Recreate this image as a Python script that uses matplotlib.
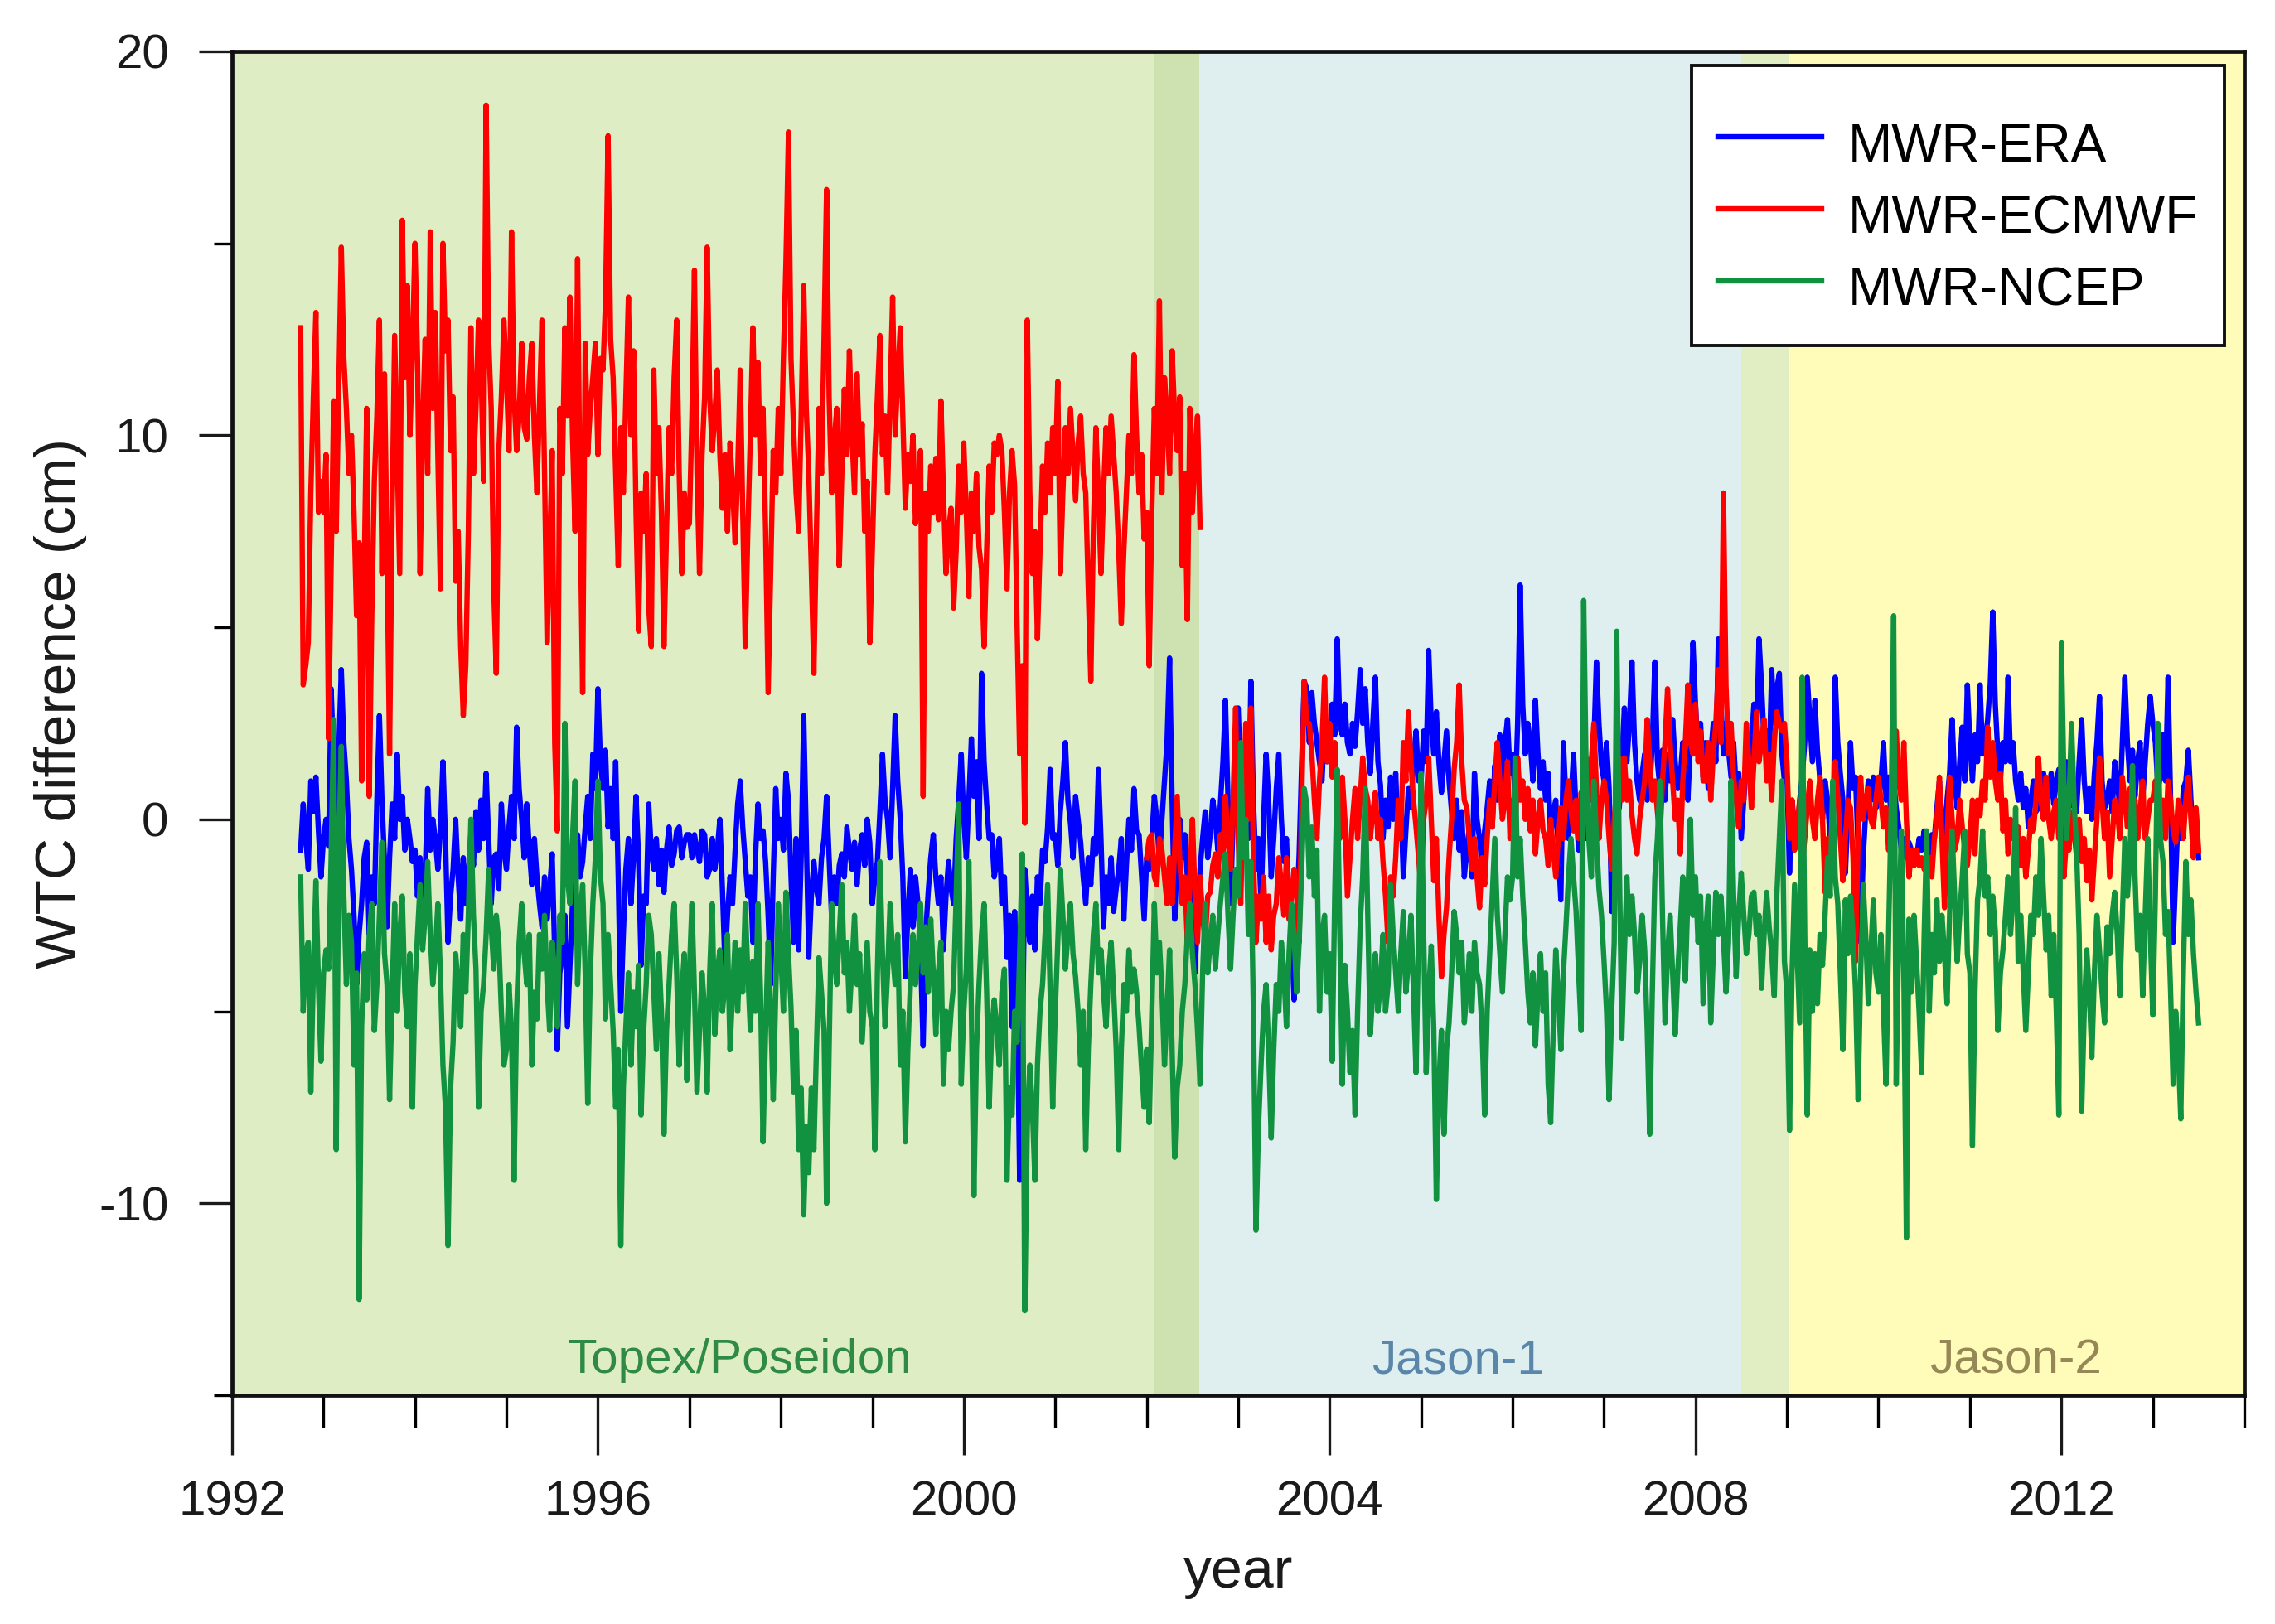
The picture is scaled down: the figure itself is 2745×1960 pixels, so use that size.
import numpy as np
import matplotlib
matplotlib.use("Agg")
import matplotlib.pyplot as plt
from matplotlib.ticker import MultipleLocator

plt.rcParams['font.family'] = ['Liberation Sans', 'DejaVu Sans']
plt.rcParams['axes.unicode_minus'] = False

# ------------------------------------------------------------------ data
cycle_step = 1.0 / 36.0          # ~10-day altimeter cycles (years)
era_start = 1992.75
ncep_start = 1992.75
ecmwf_tp_start = 1992.75
ecmwf_j_start = 2002.0

series_names = ["MWR-ERA", "MWR-ECMWF", "MWR-NCEP"]

mission_names = ["Topex/Poseidon", "Jason-1", "Jason-2"]
mission_spans = [(1992.0, 2002.08), (2002.57, 2008.5), (2009.03, 2014.0)]
overlap_spans = [(2002.08, 2002.57), (2008.5, 2009.03)]

# MWR-ERA (cm), one line per calendar year
era = [
    -0.8, 0.4, -0.5, -1.3, 1.0, 0.2, 1.1, -0.3, -1.5,
    -0.5, 0.0, -0.7, 3.4, 1.5, 0.0, 1.8, 3.9, 2.0, 1.0, -0.5, -1.3, -2.5, -4.3, -3.0, -2.2, -1.0, -0.6, -3.0, -1.5, -2.2, 0.5, 2.7, 0.5, -1.1, -2.8, -1.0, 0.4, -0.5, 1.7, 0.0, 0.6, -0.8, 0.0, -0.5, -1.1,
    -0.8, -2.0, -1.0, -3.2, -1.5, 0.8, -0.8, 0.0, -0.5, -1.3, -0.3, 1.5, -0.5, -3.2, -2.0, -1.3, 0.0, -1.5, -2.6, -1.0, -2.2, -1.5, -0.4, -1.2, 0.2, -0.8, 0.5, -0.5, 1.2, -0.5, -2.2, -1.0, -0.9, -1.8, 0.4, -0.8,
    -1.3, -0.2, 0.6, -0.5, 2.4, 0.8, 0.0, -1.0, 0.4, -0.8, -1.7, -0.5, -1.5, -2.2, -2.8, -1.5, -2.6, -1.8, -0.9, -3.5, -6.0, -4.0, -3.5, -2.5, -5.4, -3.8, -2.2, -1.0, -0.4, -1.5, -1.1, -0.2, 0.6, -0.5, 1.7, 0.8,
    3.4, 1.5, 0.8, 1.8, -0.2, 0.8, -0.5, 1.5, -1.5, -5.0, -3.0, -1.3, -0.5, -2.2, -1.0, 0.6, -1.0, -3.8, -2.0, -2.2, 0.4, -0.8, -1.3, -0.5, -1.7, -0.8, -1.9, -0.8, -0.2, -1.2, -0.9, -0.3, -0.2, -1.0, -0.6, -0.4,
    -0.4, -1.0, -0.4, -0.8, -1.1, -0.3, -0.4, -1.5, -1.3, -0.5, -1.3, -0.8, 0.0, -1.8, -3.8, -2.5, -1.5, -2.2, -0.8, 0.4, 1.0, -0.2, -1.1, -2.0, -1.5, -3.2, -1.0, 0.4, -0.5, -0.3, -1.1, -2.5, -4.3, -1.5, 0.8, -0.5,
    0.0, -0.8, 1.2, 0.5, -1.5, -3.2, -0.5, -3.4, -1.0, 2.7, -0.5, -3.6, -2.0, -1.1, -1.8, -2.2, -1.0, -0.5, 0.6, -1.0, -2.6, -1.5, -2.2, -1.2, -0.9, -1.5, -0.2, -0.8, -1.3, -0.6, -1.7, -0.8, -0.4, -1.2, 0.0, -0.6,
    -2.2, -1.5, -1.1, 0.2, 1.7, 0.5, 0.0, -1.0, 0.8, 2.7, 1.0, 0.0, -1.5, -4.1, -2.5, -1.3, -2.8, -1.5, -2.2, -3.5, -5.9, -3.0, -1.9, -1.0, -0.4, -1.5, -2.2, -1.5, -3.4, -2.0, -1.1, -1.8, -2.2, -0.5, 0.5, 1.7,
    0.0, -1.0, 0.5, 2.1, 0.6, 1.5, -0.5, 3.8, 1.5, 0.4, -0.5, -0.4, -1.5, -1.1, -0.5, -2.2, -1.5, -3.6, -2.5, -5.4, -2.4, -4.5, -9.4, -6.4, -1.3, -2.5, -3.2, -2.0, -3.4, -1.5, -2.2, -0.8, -1.1, -0.2, 1.3, -0.5,
    -0.4, -1.2, 0.2, 1.0, 2.0, 0.5, -0.1, -1.0, 0.6, 0.0, -0.6, -1.5, -2.2, -1.0, -1.7, -0.5, -0.9, 1.3, -0.5, -2.8, -1.5, -2.2, -1.0, -2.4, -1.8, -1.3, -0.5, -2.6, -1.2, 0.0, -0.8, 0.8, -0.3, -0.4, -1.5, -2.6,
    -1.0, -1.3, -0.5, 0.6, 0.0, -1.1, 0.0, 1.0, 2.0, 4.2, 0.5, -2.6, -1.0, 0.0, -1.0, -0.4, -1.5, -1.1, -2.0, -4.0, -2.5, -1.3, -0.5, 0.2, -1.0, -0.4, 0.5, 0.0, -0.8, 0.4, 1.5, 3.1, 0.5, -2.2, 0.0, 1.5,
    2.9, 1.0, 0.0, 1.5, -0.5, 3.6, 0.5, -1.3, -0.5, -2.2, 0.0, 1.7, 0.5, -1.5, -0.5, 0.8, 1.7, 0.0, -1.1, -0.5, -2.2, -3.0, -4.7, -2.5, -0.9, 1.5, 3.6, 3.4, 2.0, 3.3, 2.5, 2.0, 1.5, 1.0, 2.5, 1.5,
    2.0, 3.0, 2.2, 4.7, 2.5, 2.2, 3.0, 2.0, 1.7, 2.5, 1.9, 2.8, 3.9, 2.5, 3.4, 2.0, 1.2, 2.5, 3.7, 1.5, 0.9, -0.5, 0.5, -0.2, 1.1, 0.0, 1.2, -0.5, 0.5, -1.5, -0.3, 0.8, 0.3, 1.5, 2.3, 1.0,
    1.0, 2.3, 1.5, 4.4, 2.5, 1.7, 2.8, 1.5, 0.7, 1.5, 2.3, 1.0, 0.2, -0.5, 0.5, -0.8, 0.2, -1.5, -0.8, -0.2, -1.5, 1.2, 0.0, -0.5, -1.3, -0.3, 0.3, 1.0, -0.2, 1.4, 0.5, 2.2, 1.0, 2.0, 2.6, 1.2,
    1.7, 0.5, 2.5, 6.1, 3.0, 1.7, 2.5, 2.0, 1.0, 3.1, 1.7, 0.8, 1.5, 0.5, 1.2, -0.5, 0.2, 0.5, -0.8, -2.1, 2.0, 0.5, -0.5, 0.5, 1.7, 0.2, -0.8, 0.5, 0.3, -0.5, 1.1, 0.5, 2.0, 4.1, 2.5, 1.4,
    1.0, 2.0, 0.8, -2.4, -0.5, 1.0, 0.3, 1.5, 2.9, 1.5, 2.5, 4.1, 2.0, 1.0, 0.5, 1.2, 1.7, 0.5, 0.8, 2.0, 4.1, 1.5, 0.8, 1.8, 0.5, 1.7, 1.0, 2.6, 1.5, 0.8, 1.1, 2.0, 1.1, 0.5, 2.0, 4.6,
    3.0, 1.7, 2.5, 1.1, 2.0, 0.8, 1.7, 2.5, 1.5, 4.7, 3.0, 1.7, 2.5, 1.8, 1.1, 2.0, 0.8, 1.2, -0.5, 0.5, 1.5, 1.1, 2.0, 3.0, 2.0, 4.7, 3.5, 2.0, 2.3, 1.5, 3.9, 2.5, 3.4, 3.8, 1.7, 1.0,
    1.1, -1.4, 0.5, -0.2, -0.5, 0.5, 1.1, 2.0, 3.7, 2.6, 1.5, 3.1, 1.8, 1.0, 0.0, 1.0, 0.5, -0.5, -1.4, 3.7, 2.0, 1.2, 0.5, -1.4, 0.2, 2.0, 0.8, 1.1, -0.8, -3.2, -1.0, 0.2, 1.0, 0.5, 1.1, 0.3,
    0.4, 1.0, 2.0, 0.5, 1.1, 0.0, 1.0, 0.3, -0.2, -0.8, -0.5, -1.0, -0.6, -0.8, -1.2, -1.0, -0.5, -0.8, -0.3, -0.7, -1.0, -0.4, -0.5, 0.3, 1.0, 0.0, -0.8, 0.5, 1.2, 2.6, 1.0, 0.3, 1.5, 2.4, 1.0, 3.5,
    2.0, 1.0, 2.2, 1.5, 3.5, 1.7, 2.0, 2.6, 3.5, 5.4, 3.0, 1.7, 1.0, 2.0, 1.5, 3.7, 1.5, 2.0, 1.0, 0.5, 1.2, 0.3, 0.8, -0.2, 0.5, 1.0, 0.2, 0.3, 0.8, 1.2, 0.5, 0.6, 1.2, 0.4, 1.0, 1.3,
    1.2, 0.5, 1.5, 0.3, 0.8, 1.0, 0.2, 1.5, 2.6, 1.0, 0.2, 0.8, 0.0, 1.2, 2.0, 3.2, 1.0, 0.3, 0.5, 1.0, 0.2, 1.5, 1.0, 0.3, 2.0, 3.7, 2.0, 1.0, 1.8, 0.6, 1.5, 2.0, 0.5, 1.5, 2.5, 3.2,
    2.5, 2.0, 0.8, 1.1, 2.2, 1.0, 3.7, 0.5, -3.2, -1.5, 0.2, -0.5, 0.8, 1.0, 1.8, 0.5, -0.5, 0.2, -1.0,
]

# MWR-ECMWF during Topex/Poseidon (cm)
ecmwf_topex = [
    12.8, 3.5, 4.0, 4.6, 8.5, 11.0, 13.2, 8.0, 8.8,
    8.0, 9.5, 2.1, 6.6, 10.9, 7.5, 11.2, 14.9, 12.0, 10.7, 9.0, 10.0, 8.0, 5.3, 7.2, 1.0, 6.4, 10.7, 0.6, 5.3, 8.8, 10.5, 13.0, 6.4, 11.6, 7.0, 1.7, 8.0, 12.6, 9.5, 6.4, 15.6, 11.5, 13.9, 10.0, 12.2,
    15.0, 12.0, 6.4, 10.2, 12.5, 9.0, 15.3, 10.7, 13.2, 9.5, 6.0, 15.0, 12.2, 13.0, 9.6, 11.0, 6.2, 7.5, 4.5, 2.7, 4.0, 7.5, 12.8, 9.0, 10.7, 13.0, 11.8, 8.8, 18.6, 12.5, 10.7, 6.0, 3.8, 9.6, 11.0, 13.0,
    11.5, 9.6, 15.3, 11.0, 9.6, 10.5, 12.4, 10.2, 9.9, 11.5, 12.4, 10.0, 8.5, 10.8, 13.0, 9.0, 4.6, 7.0, 9.6, 2.0, -0.3, 10.7, 9.0, 12.8, 10.5, 13.6, 10.0, 7.5, 14.6, 8.0, 3.3, 12.4, 9.5, 10.7, 11.5, 12.4,
    9.5, 12.0, 11.7, 13.5, 17.8, 12.5, 11.5, 9.0, 6.6, 10.2, 8.5, 11.0, 13.6, 10.0, 12.2, 8.0, 4.9, 8.5, 7.5, 9.0, 5.5, 4.5, 11.7, 9.0, 10.2, 8.0, 4.5, 7.5, 10.2, 9.0, 11.5, 13.0, 9.0, 6.4, 8.5, 7.6,
    7.7, 10.5, 14.3, 9.0, 6.4, 9.5, 11.0, 14.9, 11.0, 9.6, 10.5, 11.7, 9.5, 8.1, 9.5, 7.5, 9.8, 8.7, 7.2, 9.0, 11.7, 8.0, 4.5, 7.5, 10.0, 12.8, 10.0, 11.9, 9.0, 10.7, 7.5, 3.3, 6.5, 9.6, 8.5, 10.7,
    9.0, 12.0, 14.5, 17.9, 12.0, 10.2, 8.5, 7.5, 10.5, 13.9, 10.7, 9.0, 6.5, 3.8, 7.5, 10.7, 9.0, 12.5, 16.4, 11.0, 8.5, 9.8, 10.7, 6.6, 9.0, 11.2, 9.5, 12.2, 10.0, 8.5, 11.6, 9.5, 10.3, 7.5, 8.8, 4.6,
    7.0, 9.5, 11.0, 12.6, 9.5, 10.5, 8.5, 11.0, 13.6, 10.0, 11.5, 12.8, 10.5, 8.1, 9.5, 8.8, 10.0, 7.7, 8.5, 9.6, 0.6, 8.5, 7.5, 9.2, 8.0, 9.4, 7.8, 10.9, 8.5, 6.4, 7.5, 8.1, 5.5, 7.0, 9.2, 8.0,
    9.8, 8.0, 5.8, 8.5, 7.5, 9.0, 7.1, 6.5, 4.5, 7.0, 9.2, 8.0, 9.8, 9.5, 10.0, 9.6, 8.0, 6.0, 8.5, 9.6, 8.7, 5.0, 1.7, 4.0, -0.1, 13.0, 8.5, 6.4, 7.5, 4.7, 7.0, 9.2, 8.0, 9.8, 8.5, 10.2,
    9.0, 11.4, 6.4, 8.5, 10.2, 9.0, 10.7, 9.5, 8.3, 9.8, 10.5, 9.0, 8.5, 6.0, 3.6, 7.5, 10.2, 8.5, 6.4, 8.5, 10.2, 9.0, 10.5, 9.5, 8.5, 7.0, 5.1, 7.0, 8.5, 10.0, 9.0, 12.1, 10.0, 8.5, 9.5, 7.3,
    8.0, 4.0, 8.0, 10.7, 9.0, 13.5, 8.5, 11.5, 10.5, 9.0, 12.2, 10.5, 9.6, 11.0, 6.6, 9.0, 5.2, 10.7, 8.0, 9.6, 10.5, 7.6,
]

# MWR-ECMWF during Jason-1 / Jason-2 (cm)
ecmwf_jason = [
    -1.0, -0.5, -0.4, -1.5, -1.7, -0.5, -0.8, -1.5, -2.2, -1.0, -2.2, -0.8, 0.6, -1.0, -2.2, -1.5, -3.2, -1.5, 0.0, -2.0, -3.2, -1.5, -2.5, -3.2, -2.0, -1.9, -1.2, -0.9, -1.5, -0.4, -1.0, 0.6, -0.5, -1.3, 0.5, 2.9,
    -0.5, -2.2, 0.5, 2.5, 0.0, 2.9, -1.0, -3.2, -2.0, -2.6, -1.5, -3.2, -2.0, -3.4, -2.5, -2.2, -1.0, -1.7, -2.5, -1.0, -2.6, -2.0, -1.3, -2.0, -3.2, 0.5, 3.6, 2.5, 2.5, 1.7, 0.5, -0.5, 1.0, 2.0, 3.7, 1.5,
    2.5, 1.1, 2.0, 0.5, -0.5, 1.1, 0.0, -2.0, -1.0, 0.0, 0.8, -0.5, 0.5, 1.6, 0.8, 0.5, -0.5, 0.2, 0.7, -0.5, 0.0, -1.1, -2.0, -3.2, -1.5, -2.0, -1.0, 0.5, -0.5, 2.0, 1.0, 2.8, 1.5, 0.5, -0.2, -1.0,
    -1.8, 0.0, 0.5, 1.6, 0.0, -1.6, -0.5, -2.5, -4.1, -3.0, -2.3, -1.0, 0.0, 1.3, 2.0, 3.5, 1.5, 0.5, 0.3, -0.5, -1.3, -0.5, -1.5, -2.3, -1.0, -1.7, -0.5, 0.5, -0.2, 1.0, 2.0, 1.0, 0.0, 0.5, 1.5, -0.5,
    0.5, -0.5, 1.6, 0.5, 1.0, 0.0, 0.8, -0.3, 0.5, -0.9, 0.0, 0.5, -0.3, -0.5, -1.2, 0.0, -0.8, -1.5, -0.5, 0.3, -0.5, 0.5, 1.0, 0.2, -0.3, 0.5, -0.5, 0.7, 0.0, 1.6, 0.5, 1.5, 2.5, 0.8, -0.5, 0.5,
    1.0, 0.5, -0.5, -1.3, 0.0, 0.8, 1.6, 0.5, 1.6, 0.5, 1.0, 0.1, -0.5, -0.9, 0.0, 0.5, 1.0, 2.6, 1.5, 0.5, 1.0, 0.2, -0.5, 1.0, 2.0, 3.4, 2.0, 1.0, 0.0, 0.5, -0.9, 1.0, 2.0, 3.5, 2.0, 1.7,
    3.0, 1.5, 2.3, 1.0, 1.0, 2.0, 0.5, 1.7, 2.5, 3.9, 2.0, 8.5, 3.5, 1.7, 2.5, 1.1, 0.5, -0.2, 1.0, 0.5, 2.5, 1.5, 0.3, 1.5, 2.8, 1.5, 2.0, 2.6, 1.0, 1.7, 0.5, 2.0, 2.8, 2.5, 2.3, 2.5,
    1.5, -0.5, 0.5, -0.8, -0.2, 0.5, -1.2, -0.5, 0.3, 1.0, 0.0, -0.5, 0.5, 1.1, 0.0, -1.9, -0.5, -1.0, 0.3, 1.5, 0.6, -0.5, -1.6, -0.5, 0.5, 0.3, -1.0, -3.7, -0.5, 1.1, 0.0, 0.5, 0.8, 0.0, -0.2, 0.5,
    1.1, 0.5, -0.2, 0.3, -0.8, -0.5, 0.8, 2.3, 1.0, 0.5, 2.0, 0.0, -1.5, -0.8, -1.2, -0.8, -1.2, -1.0, -1.3, -1.2, -1.0, -1.5, -0.5, 0.0, 1.1, -0.5, -2.3, -0.5, 1.1, 0.0, -0.8, -0.5, 0.5, -0.2, -0.8, -1.2,
    -0.5, 0.5, -0.9, 0.5, 0.1, 1.0, 0.5, 2.4, 1.1, 2.0, 1.0, 0.5, 1.2, -0.3, 0.5, -0.9, 0.0, -0.5, -0.5, -0.2, -1.2, -0.5, -1.5, -0.8, 0.0, -0.3, 0.5, 1.6, 0.5, 0.0, 1.1, 0.0, -0.5, 0.2, 0.5, -0.5,
    0.0, -1.5, -0.5, -0.8, 0.2, -0.3, -1.0, 0.0, -1.1, -0.5, -1.6, -0.8, -2.1, -1.0, 0.0, 1.6, 0.5, -0.5, 0.2, -1.5, -0.5, 0.5, 0.3, -0.5, 1.1, 0.5, -0.2, 0.8, 0.0, 0.5, -0.5, 0.2, 1.0, -0.5, 0.0, 0.5,
    0.5, 1.0, 0.8, 0.0, 0.5, -0.5, 1.0, 0.5, -0.3, -0.6, 0.5, 0.3, -0.5, 0.5, 1.1, 0.0, -1.0, 0.3, -0.8,
]

# MWR-NCEP (cm)
ncep = [
    -1.5, -5.0, -3.5, -3.2, -7.1, -4.0, -1.6, -4.3, -6.3,
    -4.0, -3.4, -3.9, -1.0, 2.6, -8.6, -0.8, 1.9, -2.0, -4.3, -2.5, -3.2, -6.4, -4.0, -12.5, -5.4, -3.5, -4.7, -3.0, -2.2, -5.5, -4.3, -2.5, -0.6, -3.5, -4.3, -7.3, -4.5, -2.2, -5.0, -3.0, -2.0, -4.5, -5.4, -3.5, -7.5,
    -4.3, -3.0, -1.7, -3.4, -2.5, -1.1, -3.0, -4.3, -3.5, -2.2, -4.0, -6.4, -7.5, -11.1, -7.0, -5.8, -3.5, -4.3, -5.4, -3.0, -4.5, -2.5, 0.0, -2.5, -3.9, -7.5, -5.0, -4.3, -3.0, -1.3, -2.8, -3.9, -2.5, -3.2, -5.0, -6.4,
    -6.0, -4.3, -5.5, -9.4, -5.0, -3.2, -2.2, -3.5, -4.3, -3.0, -6.4, -4.5, -5.2, -3.0, -3.9, -2.5, -4.3, -5.5, -3.2, -4.0, -5.4, -2.5, -3.2, 2.5, -1.5, -2.2, -0.5, 1.0, -4.3, -2.5, -1.7, -4.0, -7.4, -4.0, -2.2, -1.0,
    1.0, -1.5, -2.2, -5.2, -3.0, -4.3, -5.5, -7.5, -6.0, -11.1, -7.0, -5.4, -4.0, -6.4, -4.5, -5.4, -3.8, -7.7, -5.5, -4.3, -2.5, -3.0, -4.5, -6.0, -3.5, -5.0, -8.2, -5.5, -4.3, -3.0, -2.2, -4.0, -6.4, -4.5, -3.5, -6.8,
    -4.0, -2.2, -4.5, -7.1, -5.5, -4.0, -5.0, -7.1, -4.0, -2.2, -5.6, -4.0, -3.4, -5.0, -4.3, -3.0, -6.0, -4.5, -3.2, -5.0, -3.4, -4.5, -2.2, -4.0, -5.5, -3.7, -5.0, -2.2, -4.5, -8.4, -5.5, -3.2, -5.0, -7.3, -4.5, -2.2,
    -3.5, -5.0, -1.9, -3.5, -4.9, -7.1, -5.5, -8.6, -7.0, -10.3, -8.0, -9.2, -7.0, -8.6, -6.0, -3.6, -4.5, -5.5, -10.0, -6.0, -2.2, -3.5, -4.3, -3.0, -1.7, -4.0, -3.2, -5.0, -3.8, -2.5, -4.3, -3.5, -5.8, -4.5, -3.2, -5.0,
    -5.4, -8.6, -4.0, -1.1, -3.5, -5.4, -4.0, -2.2, -3.5, -4.3, -3.0, -6.4, -5.0, -8.4, -6.0, -4.3, -3.0, -4.3, -3.5, -2.2, -4.0, -2.8, -4.5, -2.6, -4.0, -5.6, -4.0, -3.2, -6.9, -5.0, -6.0, -5.0, -4.3, -2.0, 0.4, -6.9,
    -5.0, -3.9, -1.1, -5.0, -9.8, -6.0, -4.3, -3.0, -2.2, -4.5, -7.5, -5.5, -4.7, -5.5, -6.4, -4.5, -3.9, -9.4, -7.0, -7.7, -5.0, -5.8, -3.5, -0.9, -12.8, -8.0, -6.4, -7.5, -9.4, -6.4, -5.0, -4.3, -3.0, -1.7, -4.5, -7.5,
    -5.0, -3.2, -1.3, -2.5, -3.9, -3.0, -2.2, -3.5, -4.1, -5.0, -6.4, -5.0, -8.6, -6.0, -4.3, -3.0, -2.2, -4.0, -3.4, -4.5, -5.4, -4.0, -3.2, -4.5, -6.0, -8.6, -6.0, -4.3, -5.0, -3.4, -4.5, -3.9, -4.5, -5.4, -6.5, -7.5,
    -6.0, -7.9, -5.0, -2.2, -4.0, -3.2, -4.5, -6.4, -5.0, -3.4, -6.0, -8.8, -7.0, -6.4, -5.0, -4.3, -3.0, -2.2, -3.5, -4.3, -5.5, -6.9, -4.0, -2.2, -4.0, -3.2, -2.5, -3.9, -3.0, -2.2, -1.5, -0.9, -2.5, -3.9, -2.5, -1.3,
    -2.0, 2.0, -1.0, 0.0, -3.0, -1.1, -5.0, -10.7, -8.0, -6.4, -5.0, -4.3, -6.0, -8.3, -6.0, -4.3, -5.0, -3.2, -4.0, -5.4, -3.5, -2.2, -3.0, -4.5, -3.2, -1.3, 0.8, 0.4, -1.5, -0.2, -2.0, -0.8, -5.0, -3.0, -2.5, -4.5,
    -3.5, -6.3, -2.0, 1.3, -3.0, -6.9, -3.8, -5.0, -6.6, -5.5, -7.7, -5.0, -2.8, -1.5, 0.8, -2.5, -5.6, -4.5, -3.5, -5.0, -4.3, -3.0, -5.0, -4.3, -1.7, -3.0, -4.0, -5.0, -3.5, -2.4, -4.5, -3.7, -2.5, -4.5, -6.6, -3.0,
    1.2, -3.0, -6.6, -4.5, -3.3, -5.5, -9.9, -6.9, -5.5, -8.2, -6.0, -5.3, -4.0, -2.4, -3.0, -4.0, -3.2, -5.3, -4.5, -3.5, -5.0, -3.2, -4.0, -4.3, -5.5, -7.7, -5.0, -3.5, -2.0, -0.5, -2.5, -3.5, -4.5, -3.0, -1.5, -2.1,
    -1.5, 1.6, -1.5, -0.5, -2.0, -3.2, -4.5, -5.3, -4.0, -5.9, -4.5, -3.5, -5.0, -4.0, -6.9, -7.9, -5.5, -3.4, -4.5, -6.0, -4.0, -2.8, -1.5, -0.5, -1.5, -2.4, -4.0, -5.5, 5.7, 1.0, -0.5, -1.5, 1.0, -0.5, -1.8, -2.5,
    -3.7, -5.0, -7.3, -5.0, -3.2, 4.9, -1.0, -5.7, -3.5, -1.5, -3.0, -2.0, -3.0, -4.5, -3.7, -2.5, -3.4, -5.5, -8.2, -4.5, -1.5, -0.5, 1.0, -2.5, -5.3, -3.5, -2.5, -4.0, -5.6, -4.0, -2.8, -1.5, -4.2, -2.0, 0.0, -2.5,
    -1.5, -3.2, -2.0, -4.8, -3.0, -2.0, -5.3, -3.5, -1.9, -3.0, -2.0, -3.1, -4.5, -3.2, 1.0, -2.0, -4.1, -2.5, -1.4, -2.5, -3.5, -3.0, -2.0, -1.9, -3.0, -2.5, -4.4, -3.0, -1.9, -2.8, -3.5, -4.6, -2.0, -0.5, 1.0, -3.7,
    -4.5, -8.1, -4.0, -1.7, -3.5, -5.3, 3.7, -3.0, -7.7, -3.4, -5.0, -3.5, -4.8, -3.0, -3.8, -2.5, -1.0, -2.0, 1.0, -1.5, -2.2, -4.0, -6.0, -2.1, -3.5, -2.0, -3.0, -4.5, -7.3, -4.0, -1.7, -3.0, -4.8, -3.5, -2.1, -4.0,
    -4.5, -3.0, -5.0, -6.9, -3.0, 0.2, 5.3, -6.9, -3.0, -0.3, -4.0, -10.9, -2.6, -4.5, -2.5, -3.7, -5.0, -6.6, -3.0, -0.3, -5.0, -3.0, -4.0, -2.1, -3.7, -2.5, -3.5, -4.8, -2.5, -0.3, -2.0, -3.7, -2.5, -1.5, -0.3, -3.5,
    -4.0, -8.5, -4.5, -2.1, -1.5, -0.3, -2.0, -1.5, -3.0, -2.0, -2.9, -5.5, -4.0, -3.4, -2.5, -1.5, -3.0, -2.0, 0.3, -3.7, -2.5, -4.0, -5.5, -4.0, -2.5, -3.0, -1.5, -2.5, -0.5, -2.0, -3.4, -2.5, -4.6, -3.0, -5.0, -7.7,
    4.6, 1.0, -0.5, 0.5, 2.5, 0.5, -0.8, -3.0, -7.6, -5.0, -3.4, -4.5, -6.2, -4.0, -2.5, -3.4, -4.5, -5.3, -2.8, -3.5, -2.5, -1.9, -3.0, -4.6, -2.5, -0.5, -2.0, -1.0, 1.4, -1.5, -3.4, -2.5, -4.6, -2.5, -0.5, -3.0,
    -5.1, -2.0, 2.5, -0.5, -1.1, -3.0, -2.4, -4.5, -6.9, -5.0, -6.0, -7.8, -4.0, -1.1, -3.0, -2.1, -3.5, -4.5, -5.3,
]

# ------------------------------------------------------------------ style
col_era = "#0000ff"
col_ecmwf = "#ff0000"
col_ncep = "#119240"
bg_topex = "#dfedc4"
bg_jason1 = "#dfeff0"
bg_jason2 = "#fefcb8"
bg_overlap = ["#cde2b0", "#e1eec4"]
txt_cols = ["#2f8a45", "#5a86aa", "#968756"]
label_x = [1997.55, 2005.4, 2011.5]
label_y = -14.1
lw = 4.6

fig = plt.figure(figsize=(27.45, 19.6), dpi=100)
ax = fig.add_axes([0.1020, 0.1408, 0.8845, 0.8276])

for (x0, x1), c in zip(mission_spans, [bg_topex, bg_jason1, bg_jason2]):
    ax.axvspan(x0, x1, color=c, lw=0, zorder=0)
for (x0, x1), c in zip(overlap_spans, bg_overlap):
    ax.axvspan(x0, x1, color=c, lw=0, zorder=0)

t_era = era_start + np.arange(len(era)) * cycle_step
t_ncep = ncep_start + np.arange(len(ncep)) * cycle_step
t_tp = ecmwf_tp_start + np.arange(len(ecmwf_topex)) * cycle_step
t_j = ecmwf_j_start + np.arange(len(ecmwf_jason)) * cycle_step

h_era, = ax.plot(t_era, era, color=col_era, lw=lw, zorder=2)
h_ec, = ax.plot(t_tp, ecmwf_topex, color=col_ecmwf, lw=lw, zorder=3)
ax.plot(t_j, ecmwf_jason, color=col_ecmwf, lw=lw, zorder=3)
h_nc, = ax.plot(t_ncep, ncep, color=col_ncep, lw=lw, zorder=4)

for name, x, c in zip(mission_names, label_x, txt_cols):
    ax.text(x, label_y, name, color=c, fontsize=42, ha='center', va='center', zorder=5)

ax.set_xlim(1992, 2014)
ax.set_ylim(-15, 20)
ax.xaxis.set_major_locator(MultipleLocator(4))
ax.xaxis.set_minor_locator(MultipleLocator(1))
ax.yaxis.set_major_locator(MultipleLocator(10))
ax.yaxis.set_minor_locator(MultipleLocator(5))

ax.tick_params(axis='x', which='major', direction='out', length=52, width=2.4,
               pad=22, labelsize=42, colors='#1a1a1a', top=False)
ax.tick_params(axis='x', which='minor', direction='out', length=28, width=2.4, top=False)
ax.tick_params(axis='y', which='major', direction='out', length=29, width=2.4,
               pad=26, labelsize=42, colors='#1a1a1a', right=False)
ax.tick_params(axis='y', which='minor', direction='out', length=16, width=2.4, right=False)

for s in ax.spines.values():
    s.set_linewidth(3.4)
    s.set_color('#111111')
    s.set_zorder(6)

ax.set_xlabel("year", fontsize=49, color='#1a1a1a')
ax.set_ylabel("WTC difference (cm)", fontsize=50, color='#1a1a1a')
ax.xaxis.set_label_coords(0.5, -0.112)
ax.yaxis.set_label_coords(-0.072, 0.515)

leg = ax.legend([h_era, h_ec, h_nc], series_names, loc='upper right',
                bbox_to_anchor=(0.990, 0.9895), borderaxespad=0,
                fontsize=46, frameon=True, fancybox=False, shadow=False,
                framealpha=1.0, edgecolor='#111111', facecolor='white',
                handlelength=1.95, handleheight=1.45, handletextpad=0.5,
                borderpad=0.5, labelspacing=0.17,
                title=" ", title_fontsize=10)
leg.get_frame().set_linewidth(2.8)
leg.set_zorder(10)

fig.savefig("out.png", dpi=100, facecolor='white')
